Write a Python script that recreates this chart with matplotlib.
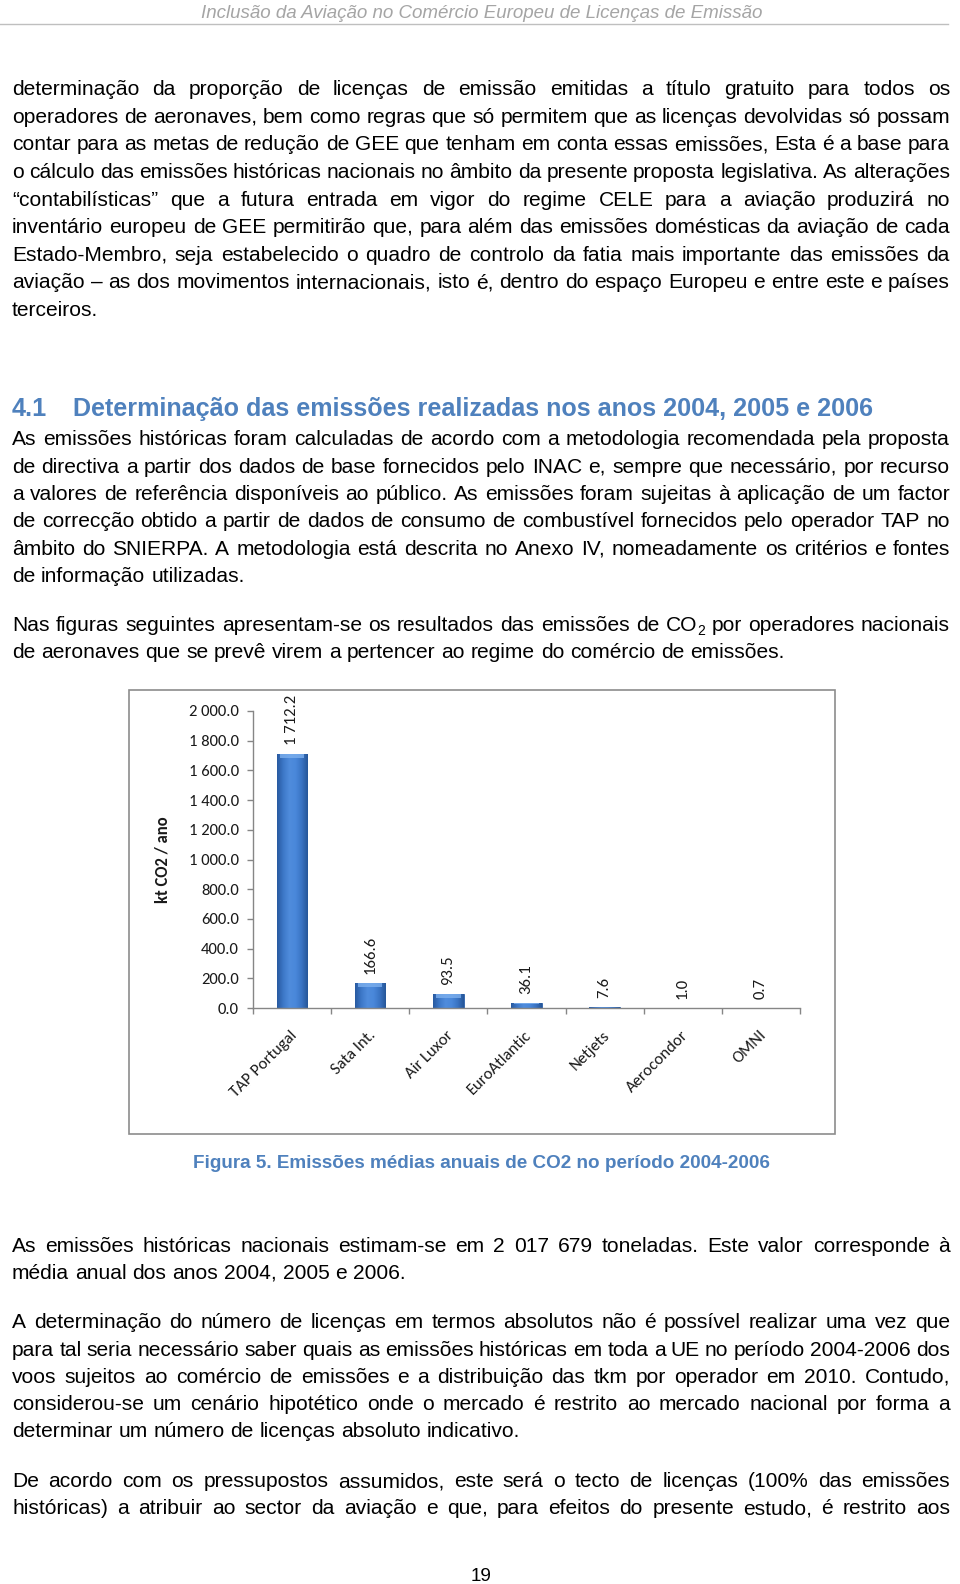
import matplotlib
matplotlib.use("Agg")
import matplotlib.pyplot as plt
import numpy as np
from matplotlib import font_manager
from matplotlib.font_manager import FontProperties
from matplotlib.patches import Rectangle
from matplotlib.lines import Line2D
from matplotlib.colors import LinearSegmentedColormap

# ---------------- data ----------------
operators = ["TAP Portugal", "Sata Int.", "Air Luxor", "EuroAtlantic",
             "Netjets", "Aerocondor", "OMNI"]
emissions_kt = [1712.2, 166.6, 93.5, 36.1, 7.6, 1.0, 0.7]
y_ticks = [0, 200, 400, 600, 800, 1000, 1200, 1400, 1600, 1800, 2000]
y_label = "kt CO2 / ano"

header_text = "Inclusão da Aviação no Comércio Europeu de Licenças de Emissão"
heading_num = "4.1"
heading_text = "Determinação das emissões realizadas nos anos 2004, 2005 e 2006"
caption_text = "Figura 5. Emissões médias anuais de CO2 no período 2004-2006"
page_number = "19"

para1 = [
    "determinação da proporção de licenças de emissão emitidas a título gratuito para todos os",
    "operadores de aeronaves, bem como regras que só permitem que as licenças devolvidas só possam",
    "contar para as metas de redução de GEE que tenham em conta essas emissões, Esta é a base para",
    "o cálculo das emissões históricas nacionais no âmbito da presente proposta legislativa. As alterações",
    "“contabilísticas” que a futura entrada em vigor do regime CELE para a aviação produzirá no",
    "inventário europeu de GEE permitirão que, para além das emissões domésticas da aviação de cada",
    "Estado-Membro, seja estabelecido o quadro de controlo da fatia mais importante das emissões da",
    "aviação – as dos movimentos internacionais, isto é, dentro do espaço Europeu e entre este e países",
    "terceiros.",
]
para2 = [
    "As emissões históricas foram calculadas de acordo com a metodologia recomendada pela proposta",
    "de directiva a partir dos dados de base fornecidos pelo INAC e, sempre que necessário, por recurso",
    "a valores de referência disponíveis ao público. As emissões foram sujeitas à aplicação de um factor",
    "de correcção obtido a partir de dados de consumo de combustível fornecidos pelo operador TAP no",
    "âmbito do SNIERPA. A metodologia está descrita no Anexo IV, nomeadamente os critérios e fontes",
    "de informação utilizadas.",
]
para3 = [
    "Nas figuras seguintes apresentam-se os resultados das emissões de CO₂ por operadores nacionais",
    "de aeronaves que se prevê virem a pertencer ao regime do comércio de emissões.",
]
para4 = [
    "As emissões históricas nacionais estimam-se em 2 017 679 toneladas. Este valor corresponde à",
    "média anual dos anos 2004, 2005 e 2006.",
]
para5 = [
    "A determinação do número de licenças em termos absolutos não é possível realizar uma vez que",
    "para tal seria necessário saber quais as emissões históricas em toda a UE no período 2004-2006 dos",
    "voos sujeitos ao comércio de emissões e a distribuição das tkm por operador em 2010. Contudo,",
    "considerou-se um cenário hipotético onde o mercado é restrito ao mercado nacional por forma a",
    "determinar um número de licenças absoluto indicativo.",
]
para6 = [
    "De acordo com os pressupostos assumidos, este será o tecto de licenças (100% das emissões",
    "históricas) a atribuir ao sector da aviação e que, para efeitos do presente estudo, é restrito aos",
]

# ---------------- setup ----------------
W, H = 960, 1584
fig = plt.figure(figsize=(W / 100, H / 100), dpi=100)
fig.patch.set_facecolor("white")
renderer = fig.canvas.get_renderer()

names = {f.name for f in font_manager.fontManager.ttflist}
BODY = "Liberation Sans Narrow" if "Liberation Sans Narrow" in names else "Liberation Sans"
CHART = "Carlito" if "Carlito" in names else "Lato"
BLUE = "#4f81bd"
CH_FS = 12


def fx(x):
    return x / W


def fy(y):
    return 1 - y / H


def measure(s, size, weight="normal", style="normal", family=None):
    fp = FontProperties(family=family or BODY, size=size, weight=weight, style=style)
    w, h, d = renderer.get_text_width_height_descent(s, fp, ismath=False)
    return w


def fit_size(s, target, weight="normal", style="normal", family=None):
    return 12.0 * target / measure(s, 12.0, weight, style, family)


def word_width(word, size):
    if "₂" in word:
        base, rest = word.split("₂")
        total = measure(base, size) + measure("2", size * 0.66)
        if rest:
            total += measure(rest, size)
        return total
    return measure(word, size)


def put_word(x, y, word, size, color="black"):
    if "₂" in word:
        base, rest = word.split("₂")
        fig.text(fx(x), fy(y), base, fontsize=size, family=BODY, color=color, va="baseline", ha="left")
        bw = measure(base, size)
        fig.text(fx(x + bw), fy(y + 4), "2", fontsize=size * 0.66, family=BODY, color=color,
                 va="baseline", ha="left")
        if rest:
            sw = measure("2", size * 0.66)
            fig.text(fx(x + bw + sw), fy(y), rest, fontsize=size, family=BODY, color=color,
                     va="baseline", ha="left")
    else:
        fig.text(fx(x), fy(y), word, fontsize=size, family=BODY, color=color, va="baseline", ha="left")


X0, X1 = 12, 950


def draw_para(lines, y0, pitch, size, justify_last=False):
    for k, line in enumerate(lines):
        y = y0 + k * pitch
        last = (k == len(lines) - 1)
        justify = (not last) or justify_last
        words = line.split(" ")
        if justify and len(words) > 1:
            widths = [word_width(w, size) for w in words]
            gap = (X1 - X0 - sum(widths)) / (len(words) - 1)
            x = X0
            for w, ww in zip(words, widths):
                put_word(x, y, w, size)
                x += ww + gap
        else:
            space = measure("a a", size) - measure("aa", size)
            x = X0
            for w in words:
                put_word(x, y, w, size)
                x += word_width(w, size) + space


# body font size calibrated from a non-justified line's width in the page
BODY_SIZE = fit_size(para3[1], 776)

# ---------------- header ----------------
hs = fit_size(header_text, 564, style="italic")
fig.text(fx(482), fy(18), header_text, fontsize=hs, family=BODY, style="italic",
         color="#a5a5a5", ha="center", va="baseline")
fig.add_artist(Line2D([0, fx(948)], [fy(24), fy(24)], color="#bfbfbf", lw=1.0,
                      transform=fig.transFigure))

# ---------------- paragraphs ----------------
draw_para(para1, 95.4, 27.54, BODY_SIZE)

hd = fit_size(heading_text, 793, weight="bold")
fig.text(fx(12), fy(416), heading_num, fontsize=hd, family=BODY, weight="bold",
         color=BLUE, ha="left", va="baseline")
fig.text(fx(73), fy(416), heading_text, fontsize=hd, family=BODY, weight="bold",
         color=BLUE, ha="left", va="baseline")

draw_para(para2, 445.1, 27.45, BODY_SIZE)
draw_para(para3, 631.0, 27.3, BODY_SIZE)
draw_para(para4, 1252.5, 26.3, BODY_SIZE)
draw_para(para5, 1328.2, 27.3, BODY_SIZE)
draw_para(para6, 1487.0, 27.3, BODY_SIZE, justify_last=True)

cs = fit_size(caption_text, 572, weight="bold")
fig.text(fx(481), fy(1167.5), caption_text, fontsize=cs, family=BODY, weight="bold",
         color=BLUE, ha="center", va="baseline")

fig.text(fx(481), fy(1581), page_number, fontsize=BODY_SIZE * 0.9, family=BODY,
         color="black", ha="center", va="baseline")

# ---------------- chart ----------------
fig.add_artist(Rectangle((fx(129), fy(1134)), (835 - 129) / W, (1134 - 690) / H,
                         transform=fig.transFigure, fill=False, edgecolor="#8c8c8c", lw=1.2))

AX_L, AX_R, AX_B, AX_T = 253, 800, 1008, 711
ax = fig.add_axes([fx(AX_L), fy(AX_B), (AX_R - AX_L) / W, (AX_B - AX_T) / H])
ax.set_facecolor("none")

x = np.arange(len(operators))
bars = ax.bar(x, emissions_kt, width=0.39, color="#3f7bcc", edgecolor="#2b5ea6",
              linewidth=0.6, zorder=2)
cmap = LinearSegmentedColormap.from_list(
    "barg", ["#285aa0", "#3d78c8", "#4f8cdc", "#4a88da", "#3a74c4", "#275799"])
grad = np.linspace(0, 1, 64).reshape(1, -1)
px_per_unit = (AX_B - AX_T) / 2000.0
for b in bars:
    x0, w, h = b.get_x(), b.get_width(), b.get_height()
    im = ax.imshow(grad, cmap=cmap, extent=[x0, x0 + w, 0, h], aspect="auto", zorder=2.5,
                   interpolation="bilinear")
    im.set_clip_path(b)
    dh = min(4.0 / px_per_unit, h * 0.3)
    ax.add_patch(Rectangle((x0 + w * 0.1, h - dh), w * 0.8, dh, facecolor="#7db0ee",
                           edgecolor="none", alpha=0.8, zorder=3))


def fmt(v):
    return f"{v:,.1f}".replace(",", " ")


for xi, v in zip(x, emissions_kt):
    ax.annotate(fmt(v), (xi, v), xytext=(0, 9), textcoords="offset pixels", rotation=90,
                ha="center", va="bottom", fontsize=CH_FS, family=CHART, color="#1a1a1a")

ax.set_xlim(-0.5, len(operators) - 0.5)
ax.set_ylim(0, 2000)
ax.set_yticks(y_ticks)
ax.set_yticklabels([fmt(t) for t in y_ticks], fontsize=CH_FS, family=CHART, color="#1a1a1a")
ax.set_xticks(np.arange(-0.5, len(operators), 1.0))
ax.set_xticklabels([])
for xi, name in zip(x, operators):
    ax.annotate(name, xy=(xi, 0), xycoords=("data", "axes fraction"), xytext=(3, -25),
                textcoords="offset pixels", rotation=45, ha="right", va="center",
                rotation_mode="anchor", fontsize=CH_FS, family=CHART, color="#1a1a1a",
                annotation_clip=False)

for s in ["top", "right"]:
    ax.spines[s].set_visible(False)
for s in ["left", "bottom"]:
    ax.spines[s].set_color("#868686")
    ax.spines[s].set_linewidth(1.0)
ax.tick_params(axis="both", direction="out", length=4, width=1.0, color="#868686")
ax.tick_params(axis="y", pad=6)

fig.text(fx(163), fy(860), y_label, rotation=90, fontsize=CH_FS, family=CHART, weight="bold",
         ha="center", va="center", color="#1a1a1a")

fig.savefig("out.png", dpi=100, facecolor="white")
